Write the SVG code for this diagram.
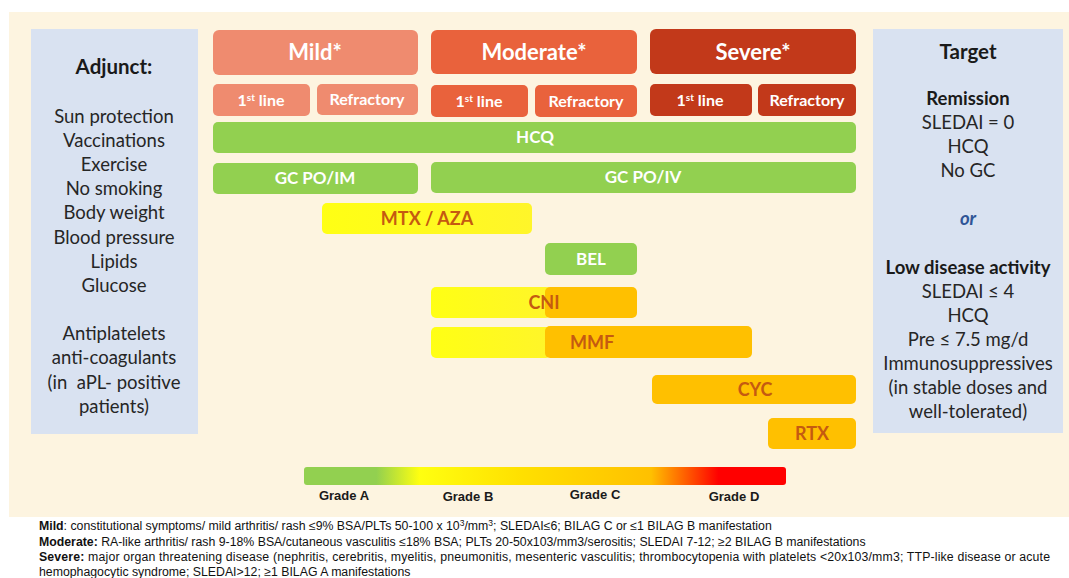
<svg xmlns="http://www.w3.org/2000/svg" width="1069" height="578" viewBox="0 0 1069 578">
  <defs>
    <linearGradient id="gradeScale" x1="0" y1="0" x2="1" y2="0">
      <stop offset="0" stop-color="#92D050"/>
      <stop offset="0.15" stop-color="#92D050"/>
      <stop offset="0.24" stop-color="#FFFF10"/>
      <stop offset="0.45" stop-color="#FFE000"/>
      <stop offset="0.72" stop-color="#FFC000"/>
      <stop offset="0.86" stop-color="#FF0000"/>
      <stop offset="1" stop-color="#FF0000"/>
    </linearGradient>
    <linearGradient id="yellowBar" x1="0" y1="0" x2="1" y2="0">
      <stop offset="0" stop-color="#FFFF14"/>
      <stop offset="1" stop-color="#FFF52A"/>
    </linearGradient>
    <style>
      .panel { fill: #FDF4E0; }
      .side { fill: #D9E2F1; }
      .mild { fill: #EF8B6F; }
      .moderate { fill: #E9623C; }
      .severe { fill: #C2391A; }
      .green { fill: #92D050; }
      .yellow { fill: url(#yellowBar); }
      .orange { fill: #FFC000; }
      .t { font-family: Lato, "Open Sans", "Liberation Sans", sans-serif; text-anchor: middle; }
      .side-text { font-size: 18.5px; fill: #262626; }
      .side-head { font-size: 20.5px; font-weight: bold; fill: #1a1a1a; }
      .head { font-size: 22px; font-weight: bold; fill: #ffffff; }
      .sub { font-size: 16px; font-weight: bold; fill: #ffffff; }
      .drug-w { font-size: 17px; font-weight: bold; fill: #ffffff; }
      .drug-o { font-size: 18px; font-weight: bold; fill: #C55A11; }
      .grade { font-family: "Liberation Sans", Arial, sans-serif; font-size: 13px; font-weight: bold; fill: #1a1a1a; text-anchor: middle; }
      .note { font-family: "Liberation Sans", Arial, sans-serif; font-size: 12.3px; fill: #111111; }
    </style>
  </defs>

  <rect x="0" y="0" width="1069" height="578" fill="#ffffff"/>
  <rect class="panel" x="9" y="12" width="1060" height="505"/>

  <!-- adjunct column -->
  <g id="adjunct">
    <rect class="side" x="31" y="29" width="167" height="405"/>
    <text class="t side-head" x="114" y="74">Adjunct:</text>
    <text class="t side-text" x="114" y="123">Sun protection</text>
    <text class="t side-text" x="114" y="147">Vaccinations</text>
    <text class="t side-text" x="114" y="171">Exercise</text>
    <text class="t side-text" x="114" y="195">No smoking</text>
    <text class="t side-text" x="114" y="219">Body weight</text>
    <text class="t side-text" x="114" y="244">Blood pressure</text>
    <text class="t side-text" x="114" y="268">Lipids</text>
    <text class="t side-text" x="114" y="292">Glucose</text>
    <text class="t side-text" x="114" y="340">Antiplatelets</text>
    <text class="t side-text" x="114" y="364">anti-coagulants</text>
    <text class="t side-text" x="114" y="389" xml:space="preserve">(in  aPL- positive</text>
    <text class="t side-text" x="114" y="413">patients)</text>
  </g>

  <!-- target column -->
  <g id="target">
    <rect class="side" x="873" y="29" width="190" height="404"/>
    <text class="t side-head" x="968" y="59">Target</text>
    <text class="t side-head" x="968" y="105" style="font-size:18.5px">Remission</text>
    <text class="t side-text" x="968" y="129">SLEDAI = 0</text>
    <text class="t side-text" x="968" y="153">HCQ</text>
    <text class="t side-text" x="968" y="177">No GC</text>
    <text class="t side-text" x="968" y="225" style="font-weight:bold;font-style:italic;fill:#2F5597">or</text>
    <text class="t side-head" x="968" y="274" style="font-size:18.5px">Low disease activity</text>
    <text class="t side-text" x="968" y="298">SLEDAI ≤ 4</text>
    <text class="t side-text" x="968" y="322">HCQ</text>
    <text class="t side-text" x="968" y="346">Pre ≤ 7.5 mg/d</text>
    <text class="t side-text" x="968" y="370">Immunosuppressives</text>
    <text class="t side-text" x="968" y="394">(in stable doses and</text>
    <text class="t side-text" x="968" y="418">well-tolerated)</text>
  </g>

  <!-- severity headers -->
  <g id="mild">
    <rect class="mild" x="213" y="30" width="205" height="45" rx="6"/>
    <text class="t head" x="315" y="60">Mild*</text>
  </g>
  <g id="mild-first">
    <rect class="mild" x="213" y="84" width="97" height="32" rx="5"/>
    <text class="t sub" x="261" y="106">1<tspan dy="-5" style="font-size:10px">st</tspan><tspan dy="5"> line</tspan></text>
  </g>
  <g id="mild-refractory">
    <rect class="mild" x="317" y="84" width="101" height="31" rx="5"/>
    <text class="t sub" x="367" y="105">Refractory</text>
  </g>

  <g id="moderate">
    <rect class="moderate" x="431" y="30" width="206" height="44" rx="6"/>
    <text class="t head" x="534" y="60">Moderate*</text>
  </g>
  <g id="moderate-first">
    <rect class="moderate" x="431" y="85" width="97" height="32" rx="5"/>
    <text class="t sub" x="479" y="107">1<tspan dy="-5" style="font-size:10px">st</tspan><tspan dy="5"> line</tspan></text>
  </g>
  <g id="moderate-refractory">
    <rect class="moderate" x="535" y="85" width="102" height="32" rx="5"/>
    <text class="t sub" x="586" y="107">Refractory</text>
  </g>

  <g id="severe">
    <rect class="severe" x="650" y="29" width="206" height="45" rx="6"/>
    <text class="t head" x="753" y="60">Severe*</text>
  </g>
  <g id="severe-first">
    <rect class="severe" x="650" y="84" width="102" height="32" rx="5"/>
    <text class="t sub" x="700" y="106">1<tspan dy="-5" style="font-size:10px">st</tspan><tspan dy="5"> line</tspan></text>
  </g>
  <g id="severe-refractory">
    <rect class="severe" x="758" y="84" width="98" height="32" rx="5"/>
    <text class="t sub" x="807" y="106">Refractory</text>
  </g>

  <!-- treatment bars -->
  <g id="hcq">
    <rect class="green" x="213" y="122" width="643" height="31" rx="5"/>
    <text class="t drug-w" x="535" y="143">HCQ</text>
  </g>
  <g id="gc-po-im">
    <rect class="green" x="213" y="163" width="205" height="31" rx="5"/>
    <text class="t drug-w" x="315" y="184">GC PO/IM</text>
  </g>
  <g id="gc-po-iv">
    <rect class="green" x="431" y="162" width="425" height="31" rx="5"/>
    <text class="t drug-w" x="643" y="183">GC PO/IV</text>
  </g>
  <g id="mtx-aza">
    <rect class="yellow" x="322" y="203" width="210" height="31" rx="5"/>
    <text class="t drug-o" x="427" y="225">MTX / AZA</text>
  </g>
  <g id="bel">
    <rect class="green" x="545" y="243" width="92" height="32" rx="5"/>
    <text class="t drug-w" x="591" y="265">BEL</text>
  </g>
  <g id="cni">
    <rect class="yellow" x="431" y="287" width="120" height="31" rx="5"/>
    <rect class="orange" x="545" y="287" width="92" height="31" rx="5"/>
    <text class="t drug-o" x="544" y="309">CNI</text>
  </g>
  <g id="mmf">
    <rect class="yellow" x="431" y="327" width="120" height="31" rx="5"/>
    <rect class="orange" x="545" y="326" width="207" height="32" rx="5"/>
    <text class="t drug-o" x="592" y="349">MMF</text>
  </g>
  <g id="cyc">
    <rect class="orange" x="652" y="375" width="204" height="29" rx="5"/>
    <text class="t drug-o" x="755" y="396">CYC</text>
  </g>
  <g id="rtx">
    <rect class="orange" x="768" y="418" width="88" height="31" rx="5"/>
    <text class="t drug-o" x="812" y="440">RTX</text>
  </g>

  <!-- evidence grade scale -->
  <g id="grade-scale">
    <rect x="304" y="467" width="482" height="18" rx="3" fill="url(#gradeScale)"/>
    <text class="grade" x="344" y="500">Grade A</text>
    <text class="grade" x="468" y="501">Grade B</text>
    <text class="grade" x="595" y="499">Grade C</text>
    <text class="grade" x="734" y="501">Grade D</text>
  </g>

  <!-- severity definitions -->
  <g id="definitions">
    <text class="note" x="39" y="530"><tspan font-weight="bold">Mild</tspan>: constitutional symptoms/ mild arthritis/ rash ≤9% BSA/PLTs 50-100 x 10<tspan dy="-4" font-size="8.5px">3</tspan><tspan dy="4">/mm</tspan><tspan dy="-4" font-size="8.5px">3</tspan><tspan dy="4">; SLEDAI≤6; BILAG C or ≤1 BILAG B manifestation</tspan></text>
    <text class="note" x="39" y="546"><tspan font-weight="bold">Moderate:</tspan> RA-like arthritis/ rash 9-18% BSA/cutaneous vasculitis ≤18% BSA; PLTs 20-50x103/mm3/serositis; SLEDAI 7-12; ≥2 BILAG B manifestations</text>
    <text class="note" x="39" y="561" textLength="1011" lengthAdjust="spacing"><tspan font-weight="bold">Severe:</tspan> major organ threatening disease (nephritis, cerebritis, myelitis, pneumonitis, mesenteric vasculitis;  thrombocytopenia with platelets &lt;20x103/mm3; TTP-like disease or acute</text>
    <text class="note" x="39" y="576">hemophagocytic syndrome; SLEDAI&gt;12; ≥1 BILAG A manifestations</text>
  </g>
</svg>
